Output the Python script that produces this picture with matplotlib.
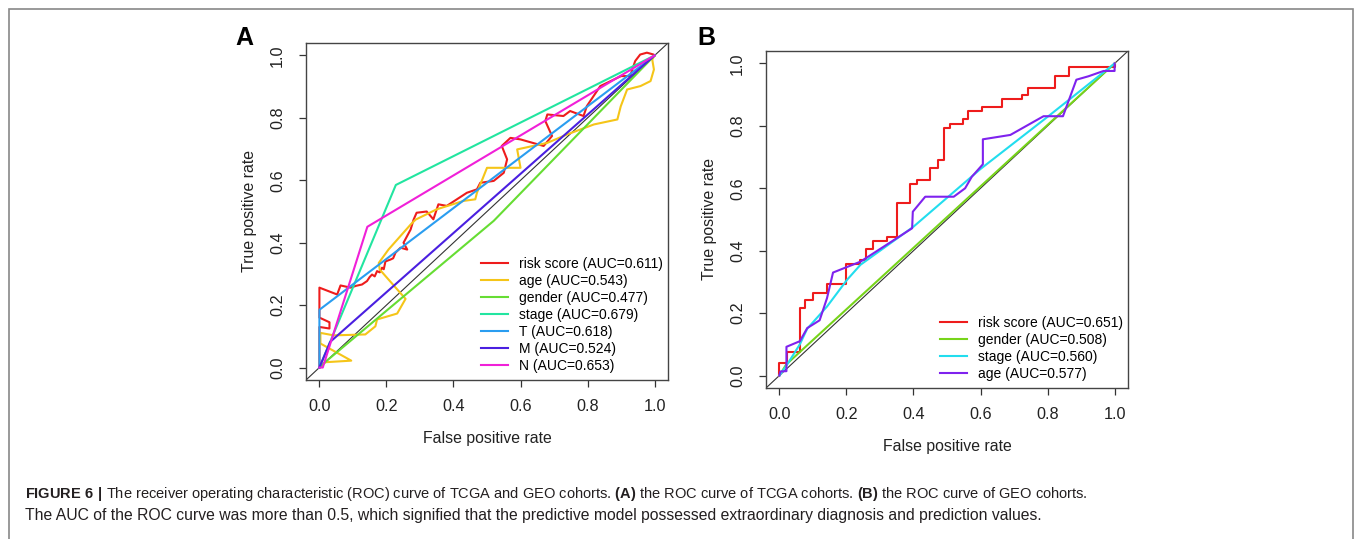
import matplotlib
matplotlib.use("Agg")
import matplotlib.pyplot as plt
from matplotlib import font_manager as fm
from matplotlib.patches import Rectangle

# ---------------- data ----------------
ticks = [0.0, 0.2, 0.4, 0.6, 0.8, 1.0]
tick_labels = ["0.0", "0.2", "0.4", "0.6", "0.8", "1.0"]

# Panel A (TCGA)
a_names = ["risk score", "age", "gender", "stage", "T", "M", "N"]
a_auc = ["0.611", "0.543", "0.477", "0.679", "0.618", "0.524", "0.653"]
a_colors = ["#EE1C1C", "#F5C518", "#66DD33", "#22E5A0", "#2A9DF0", "#4A1FE0", "#F020D8"]

a_risk_fpr = [0, 0, 0.03, 0.03, 0, 0, 0.053, 0.063, 0.093, 0.11, 0.127, 0.142, 0.15, 0.157, 0.165, 0.172, 0.18,
              0.187, 0.192, 0.197, 0.212, 0.22, 0.227, 0.242, 0.262, 0.251, 0.272, 0.281, 0.29, 0.32, 0.34, 0.355,
              0.38, 0.41, 0.44, 0.47, 0.48, 0.52, 0.55, 0.56, 0.544, 0.57, 0.6, 0.669, 0.694, 0.674, 0.68, 0.728,
              0.748, 0.788, 0.798, 0.828, 0.838, 0.9, 0.927, 0.942, 0.957, 0.977, 0.997, 1.0]
a_risk_tpr = [0, 0.13, 0.125, 0.145, 0.16, 0.256, 0.234, 0.263, 0.256, 0.262, 0.266, 0.277, 0.29, 0.298, 0.292,
              0.309, 0.305, 0.32, 0.315, 0.34, 0.346, 0.35, 0.368, 0.384, 0.378, 0.40, 0.442, 0.474, 0.496, 0.50,
              0.475, 0.523, 0.518, 0.539, 0.56, 0.571, 0.592, 0.598, 0.624, 0.667, 0.71, 0.736, 0.731, 0.71, 0.742,
              0.79, 0.811, 0.806, 0.822, 0.806, 0.838, 0.886, 0.902, 0.934, 0.934, 0.982, 1.003, 1.009, 1.003, 1.0]

a_age_fpr = [0, 0.018, 0.095, 0.003, 0.003, 0.043, 0.137, 0.167, 0.172, 0.232, 0.257, 0.18, 0.177, 0.206, 0.272,
             0.287, 0.35, 0.43, 0.465, 0.47, 0.5, 0.6, 0.59, 0.68, 0.739, 0.819, 0.889, 0.899, 0.918, 0.958, 0.988,
             0.998, 0.993, 1.0]
a_age_tpr = [0, 0.017, 0.022, 0.077, 0.111, 0.103, 0.106, 0.132, 0.154, 0.173, 0.22, 0.314, 0.335, 0.378, 0.458,
             0.474, 0.507, 0.534, 0.539, 0.56, 0.64, 0.64, 0.699, 0.72, 0.747, 0.779, 0.795, 0.837, 0.891, 0.902,
             0.918, 0.955, 0.987, 1.0]

a_gender_fpr = [0, 0.02, 0.52, 1.0]
a_gender_tpr = [0, 0.02, 0.47, 1.0]
a_stage_fpr = [0, 0.228, 1.0]
a_stage_tpr = [0, 0.585, 1.0]
a_t_fpr = [0, 0, 1.0]
a_t_tpr = [0, 0.185, 1.0]
a_m_fpr = [0, 0.032, 1.0]
a_m_tpr = [0, 0.082, 1.0]
a_n_fpr = [0, 0.01, 0.143, 1.0]
a_n_tpr = [0, 0, 0.451, 1.0]

# Panel B (GEO)
b_names = ["risk score", "gender", "stage", "age"]
b_auc = ["0.651", "0.508", "0.560", "0.577"]
b_colors = ["#EE1C1C", "#77D41A", "#22DDEE", "#7F22EE"]

b_risk_fpr = [0, 0, 0.022, 0.022, 0.06, 0.06, 0.077, 0.077, 0.1, 0.1, 0.141, 0.141, 0.199, 0.199, 0.239, 0.239,
              0.259, 0.259, 0.279, 0.279, 0.32, 0.32, 0.35, 0.35, 0.39, 0.39, 0.41, 0.41, 0.45, 0.45, 0.472, 0.472,
              0.492, 0.492, 0.51, 0.51, 0.547, 0.547, 0.564, 0.564, 0.604, 0.604, 0.664, 0.664, 0.723, 0.723,
              0.743, 0.743, 0.823, 0.823, 0.863, 0.863, 1.0, 1.0]
b_risk_tpr = [0, 0.04, 0.04, 0.075, 0.075, 0.215, 0.215, 0.242, 0.242, 0.266, 0.266, 0.292, 0.292, 0.356, 0.356,
              0.37, 0.37, 0.407, 0.407, 0.432, 0.432, 0.445, 0.445, 0.552, 0.552, 0.614, 0.614, 0.626, 0.626,
              0.666, 0.666, 0.69, 0.69, 0.792, 0.792, 0.806, 0.806, 0.822, 0.822, 0.848, 0.848, 0.859, 0.859,
              0.886, 0.886, 0.899, 0.899, 0.922, 0.922, 0.959, 0.959, 0.988, 0.988, 1.0]

b_gender_fpr = [0, 0.02, 1.0]
b_gender_tpr = [0, 0.035, 1.0]
b_stage_fpr = [0, 0.02, 0.061, 0.083, 0.142, 0.202, 0.242, 0.4, 0.6, 0.8, 1.0]
b_stage_tpr = [0, 0.03, 0.1, 0.15, 0.221, 0.307, 0.355, 0.477, 0.662, 0.829, 1.0]
b_age_fpr = [0, 0.003, 0.021, 0.021, 0.061, 0.083, 0.12, 0.142, 0.16, 0.242, 0.396, 0.398, 0.435, 0.52, 0.554,
             0.574, 0.607, 0.607, 0.689, 0.788, 0.846, 0.886, 0.922, 0.967, 1.0, 1.0]
b_age_tpr = [0, 0.013, 0.014, 0.092, 0.11, 0.152, 0.177, 0.248, 0.33, 0.365, 0.472, 0.525, 0.573, 0.573, 0.6,
             0.637, 0.677, 0.757, 0.771, 0.831, 0.831, 0.948, 0.959, 0.976, 0.976, 1.0]

caption1 = (r"$\mathbf{FIGURE\ 6\ |}$ The receiver operating characteristic (ROC) curve of TCGA and GEO cohorts. "
            r"$\mathbf{(A)}$ the ROC curve of TCGA cohorts. $\mathbf{(B)}$ the ROC curve of GEO cohorts.")
caption2 = ("The AUC of the ROC curve was more than 0.5, which signified that the predictive model possessed "
            "extraordinary diagnosis and prediction values.")

# ---------------- style ----------------
available = {f.name for f in fm.fontManager.ttflist}
narrow = "Liberation Sans Narrow" if "Liberation Sans Narrow" in available else "Liberation Sans"
cap1_size = 9.6 if narrow == "Liberation Sans Narrow" else 10.5
plt.rcParams["font.family"] = ["Liberation Sans", "DejaVu Sans"]
plt.rcParams["mathtext.fontset"] = "custom"
plt.rcParams["mathtext.rm"] = narrow
plt.rcParams["mathtext.bf"] = narrow + ":bold"

W, H = 1355, 539
fig = plt.figure(figsize=(W / 100, H / 100), dpi=100)
fig.patch.set_facecolor("white")

axA = fig.add_axes([306 / W, 1 - 380 / H, 362 / W, 337 / H])
axB = fig.add_axes([766 / W, 1 - 388 / H, 362 / W, 337 / H])

LW = 1.5


def style(ax):
    ax.set_xlim(-0.04, 1.04)
    ax.set_ylim(-0.04, 1.04)
    ax.set_xticks(ticks)
    ax.set_xticklabels(tick_labels)
    ax.set_yticks(ticks)
    ax.set_yticklabels(tick_labels, rotation=90, va="center")
    ax.tick_params(direction="out", length=5, width=0.9, labelsize=11.7, colors="#333333", labelcolor="#222222")
    ax.tick_params(axis="x", pad=9)
    ax.tick_params(axis="y", pad=10)
    for s in ax.spines.values():
        s.set_linewidth(1.0)
        s.set_color("#444444")
    ax.set_xlabel("False positive rate", fontsize=11.4, labelpad=12, color="#222222")
    ax.set_ylabel("True positive rate", fontsize=11.4, labelpad=9.5, color="#222222")
    ax.axline((0, 0), slope=1, color="#333333", lw=0.8, zorder=1)


style(axA)
style(axB)

a_curves = [(a_risk_fpr, a_risk_tpr), (a_age_fpr, a_age_tpr), (a_gender_fpr, a_gender_tpr),
            (a_stage_fpr, a_stage_tpr), (a_t_fpr, a_t_tpr), (a_m_fpr, a_m_tpr), (a_n_fpr, a_n_tpr)]
handles = []
for (fx, ty), c, n, a in zip(a_curves, a_colors, a_names, a_auc):
    h, = axA.plot(fx, ty, color=c, lw=LW, label=f"{n} (AUC={a})", zorder=2)
    handles.append(h)
axA.legend(handles=handles, loc="lower right", bbox_to_anchor=(0.985, 0.02), frameon=False, fontsize=10,
           handlelength=1.95, handletextpad=0.75, labelspacing=0.22, borderaxespad=0, borderpad=0)

b_curves = [(b_risk_fpr, b_risk_tpr), (b_gender_fpr, b_gender_tpr), (b_stage_fpr, b_stage_tpr),
            (b_age_fpr, b_age_tpr)]
handles = []
for (fx, ty), c, n, a in zip(b_curves, b_colors, b_names, b_auc):
    h, = axB.plot(fx, ty, color=c, lw=LW, label=f"{n} (AUC={a})", zorder=2)
    handles.append(h)
axB.legend(handles=handles, loc="lower right", bbox_to_anchor=(0.985, 0.02), frameon=False, fontsize=10,
           handlelength=1.95, handletextpad=0.75, labelspacing=0.22, borderaxespad=0, borderpad=0)

# panel letters
fig.text(235 / W, 1 - 45 / H, "A", fontsize=18, fontweight="bold", va="baseline")
fig.text(697 / W, 1 - 45 / H, "B", fontsize=18, fontweight="bold", va="baseline")

# outer frame
fig.add_artist(Rectangle((8.5 / W, -0.02), (1353 - 8.5) / W, 1.02 - 9 / H, transform=fig.transFigure,
                         fill=False, edgecolor="#888888", lw=1.2))

# caption
fig.text(25 / W, 1 - 498 / H, caption1, family=narrow, fontsize=cap1_size, va="baseline", color="#231F20")
fig.text(25 / W, 1 - 520 / H, caption2, family="Liberation Sans", fontsize=11.3, va="baseline", color="#231F20")

fig.savefig("out.png", dpi=100, facecolor="white")
